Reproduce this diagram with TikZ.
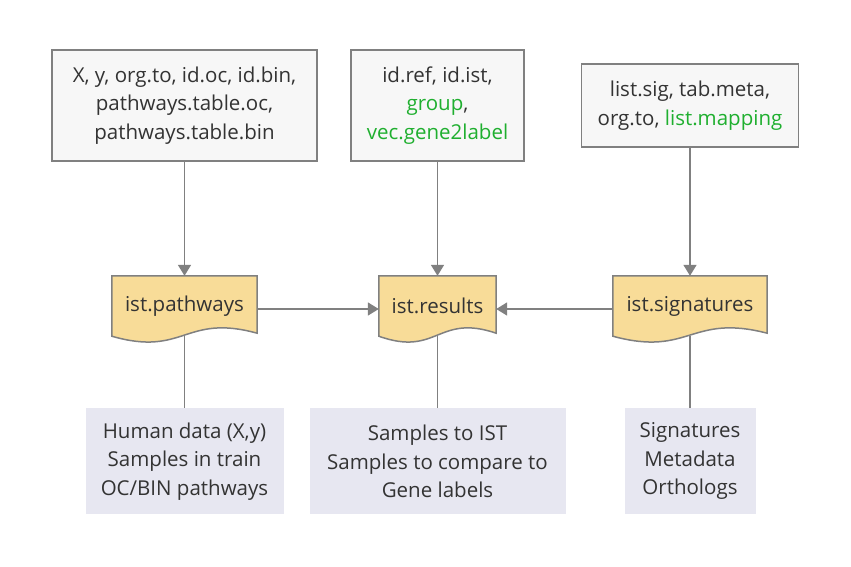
\documentclass[tikz,border=0pt]{standalone}
\usepackage{fontspec}
\setmainfont{Open Sans}
\usepackage{tikz}
\usetikzlibrary{arrows.meta, positioning, calc, backgrounds}
\definecolor{lineg}{HTML}{808080}
\definecolor{boxg}{HTML}{F7F7F7}
\definecolor{docy}{HTML}{F8DC98}
\definecolor{lav}{HTML}{E7E7F1}
\definecolor{txtg}{HTML}{333333}
\definecolor{grn}{HTML}{1FAF2F}

\begin{document}
\begin{tikzpicture}[
        x=1pt, y=-1pt,
        font=\fontsize{20.5}{28.5}\selectfont, text=txtg,
        inbox/.style={draw=lineg, line width=1.5pt, fill=boxg, align=center, inner sep=0pt},
        docbox/.style={align=center, inner sep=0pt, minimum height=60pt},
        outbox/.style={fill=lav, align=center, inner sep=0pt, minimum height=106pt},
        docline/.style={draw=lineg, line width=1.5pt, fill=docy},
        conn/.style={lineg, line width=1.6pt},
        arr/.style={conn, -{Triangle[width=13pt, length=11pt]}}
    ]
        \useasboundingbox (0,0) rectangle (851,566);

        % document nodes
        \node[docbox, minimum width=145pt] (pw)  at (184.5,306) {ist.pathways};
        \node[docbox, minimum width=117pt] (res) at (437.5,306) {ist.results};
        \node[docbox, minimum width=154pt] (sig) at (690,306)   {ist.signatures};

        % inputs
        \node[inbox, minimum width=265pt, minimum height=111pt, above=114pt of pw] (inpw)
            {X, y, org.to, id.oc, id.bin,\\pathways.table.oc,\\pathways.table.bin};
        \node[inbox, minimum width=173pt, minimum height=111pt, above=114pt of res] (inres)
            {id.ref, id.ist,\\\textcolor{grn}{group},\\\textcolor{grn}{vec.gene2label}};
        \node[inbox, minimum width=217pt, minimum height=83pt, above=128pt of sig] (insig)
            {list.sig, tab.meta,\\org.to, \textcolor{grn}{list.mapping}};

        % descriptions
        \node[outbox, minimum width=198pt, below=72pt of pw]  (outpw)
            {Human data (X,y)\\Samples in train\\OC/BIN pathways};
        \node[outbox, minimum width=256pt, below=72pt of res] (outres)
            {Samples to IST\\Samples to compare to\\Gene labels};
        \node[outbox, minimum width=131pt, below=72pt of sig] (outsig)
            {Signatures\\Metadata\\Orthologs};

        \begin{scope}[on background layer]
            \foreach \d in {pw,res,sig}
                \draw[docline] (\d.north west) -- (\d.north east) -- ($(\d.south east)+(0,-3)$)
                    .. controls ($(\d.south)+(0,-23)$) and ($(\d.south)+(0,21)$) .. (\d.south west) -- cycle;
        \end{scope}

        \draw[arr] (inpw) -- (pw);
        \draw[arr] (inres) -- (res);
        \draw[arr] (insig) -- (sig);
        \draw[arr] ([yshift=-3pt]pw.east) -- ([yshift=-3pt]res.west);
        \draw[arr] ([yshift=-3pt]sig.west) -- ([yshift=-3pt]res.east);
        \draw[conn] (pw) -- (outpw);
        \draw[conn] (res) -- (outres);
        \draw[conn] (sig) -- (outsig);
    \end{tikzpicture}
\end{document}
